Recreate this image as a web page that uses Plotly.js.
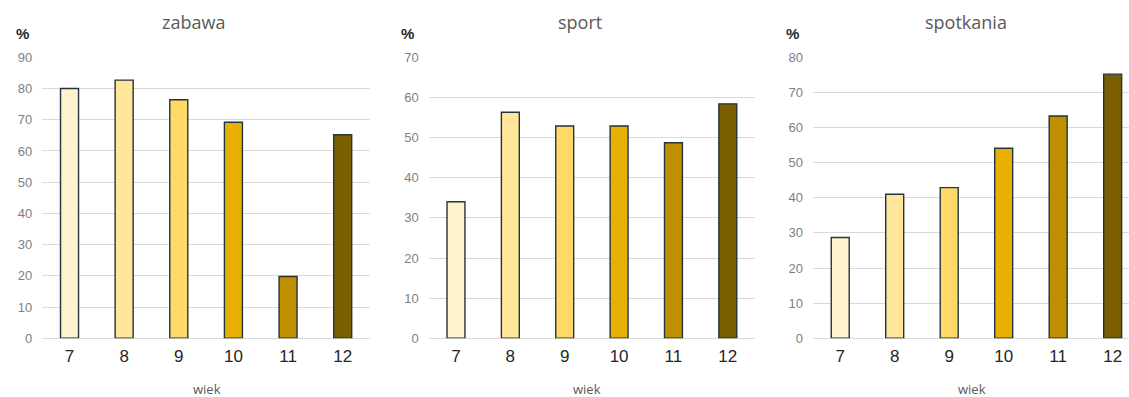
<!DOCTYPE html>
<html><head><meta charset="utf-8">
<script src="https://cdn.plot.ly/plotly-3.0.1.min.js"></script>
<style>html,body{margin:0;padding:0;background:#fff}#c{width:1129px;height:397px}</style>
</head><body><div id="c"></div>
<script>
const categories = ['7','8','9','10','11','12'];
const zabawa = [80.0, 82.7, 76.4, 69.2, 19.8, 65.2];
const sport = [34.0, 56.3, 52.9, 52.9, 48.7, 58.4];
const spotkania = [28.7, 41.0, 42.9, 54.1, 63.3, 75.2];
const panelTitles = ['zabawa','sport','spotkania'];
const yMax = [90, 70, 80];
const colors = ['#FFF2CC','#FFE699','#FFD966','#E8B000','#BF8F00','#7A5E00'];

const W = 1129, H = 397;
const series = [zabawa, sport, spotkania];
const px = [[42.2, 370], [428.8, 755], [813, 1129]];
const xr = [[-0.5,5.5],[-0.5,5.5],[-0.5,5.3]];
const yb = 338.3, yt = 57.3;
const traces = [], layout = {
  width: W, height: H, margin:{l:0,r:0,t:0,b:0}, showlegend:false,
  paper_bgcolor:'#fff', plot_bgcolor:'#fff', bargap:0.67, annotations:[]
};
const titleX = [193, 580, 966], pctX = [22, 407, 792], wiekX = [207, 587, 972];
series.forEach((vals, i) => {
  const sfx = i === 0 ? '' : String(i+1);
  traces.push({type:'bar', x:categories, y:vals, xaxis:'x'+sfx, yaxis:'y'+sfx,
    marker:{color:colors, line:{color:'#22343d', width:1.4}}, width:0.33, hoverinfo:'none'});
  layout['xaxis'+sfx] = {domain:[px[i][0]/W, px[i][1]/W], anchor:'y'+sfx, type:'category',
    range:xr[i], showgrid:false, zeroline:false, showline:false, ticks:'',
    tickfont:{family:'Liberation Sans, Arial', size:17, color:'#262626'}, ticklabelstandoff:6, fixedrange:true};
  layout['yaxis'+sfx] = {domain:[(H-yb)/H, (H-yt)/H], anchor:'x'+sfx, range:[0, yMax[i]], dtick:10,
    showgrid:true, gridcolor:'#d9d9d9', gridwidth:1, zeroline:true, zerolinecolor:'#d9d9d9', zerolinewidth:1,
    showline:false, ticks:'', tickfont:{family:'Liberation Sans, Arial', size:13, color:'#7f7f7f'},
    ticklabelstandoff:9, fixedrange:true};
  layout.annotations.push({text:panelTitles[i], xref:'paper', yref:'paper', x:titleX[i]/W, y:(H-22)/H,
    xanchor:'center', yanchor:'middle', showarrow:false, font:{family:'Open Sans, Noto Sans', size:18, color:'#595959'}});
  layout.annotations.push({text:'<b>%</b>', xref:'paper', yref:'paper', x:pctX[i]/W, y:(H-33)/H,
    xanchor:'center', yanchor:'middle', showarrow:false, font:{family:'Liberation Sans, Arial', size:15, color:'#262626'}});
  layout.annotations.push({text:'wiek', xref:'paper', yref:'paper', x:wiekX[i]/W, y:(H-389)/H,
    xanchor:'center', yanchor:'middle', showarrow:false, font:{family:'Open Sans, Noto Sans', size:13, color:'#595959'}});
});
Plotly.newPlot('c', traces, layout, {displayModeBar:false, staticPlot:true});
</script></body></html>
